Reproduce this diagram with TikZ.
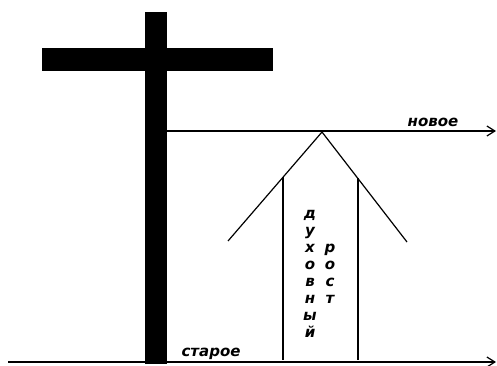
\documentclass[tikz,border=0pt]{standalone}
\usepackage{fontspec}
\setmainfont{DejaVu Sans}
\usetikzlibrary{arrows.meta}

\begin{document}
\begin{tikzpicture}[x=1pt, y=-1pt,
    >={Straight Barb[length=8pt, width=10pt]},
    lbl/.style={font=\fontsize{15}{15}\selectfont\bfseries\itshape, inner sep=0pt, anchor=base},
    axis/.style={->, line width=1.2pt},
    edge/.style={line width=1.2pt}]
    \useasboundingbox (0,0) rectangle (497,366);

    % 1. The cross
    \fill (145,12) rectangle (167,364);
    \fill (42,48) rectangle (273,71);

    % 2. Old and new levels
    \coordinate (newL) at (167,131);
    \coordinate (newR) at (496,131);
    \coordinate (oldL) at (8,362);
    \coordinate (oldR) at (496,362);
    \draw[axis] (newL) -- (newR);
    \draw[axis] (oldL) -- (oldR);
    \node[lbl] (new) at (433,127) {новое};
    \node[lbl] (old) at (211,356) {старое};

    % 3. The arrow of growth
    \coordinate (peak) at (322,132);
    \coordinate (wingL) at (228,241);
    \coordinate (wingR) at (407,242);
    \coordinate (shaftL) at (283,177);
    \coordinate (shaftR) at (358,178);
    \draw[edge] (wingL) -- (peak) -- (wingR);
    \draw[edge] (shaftL) -- (shaftL |- 0,360);
    \draw[edge] (shaftR) -- (shaftR |- 0,360);

    % 4. Vertical words, one letter per line
    \foreach \c [count=\i] in {д,у,х,о,в,н,ы,й}
        \node[lbl] (spirit\i) at (310,{218+17*(\i-1)}) {\c};
    \foreach \c [count=\i] in {р,о,с,т}
        \node[lbl] (growth\i) at (330,{252+17*(\i-1)}) {\c};

\end{tikzpicture}
\end{document}
